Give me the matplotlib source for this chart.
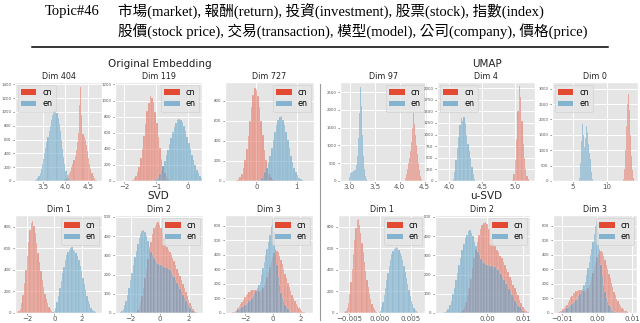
import matplotlib
matplotlib.use('Agg')
import matplotlib.pyplot as plt
import matplotlib.patches as mpatches
from matplotlib.lines import Line2D
import numpy as np

plt.style.use('ggplot')

# ---------------- header text ----------------
topic_label = "Topic#46"
topic_line1 = "市場(market), 報酬(return), 投資(investment), 股票(stock), 指數(index)"
topic_line2 = "股價(stock price), 交易(transaction), 模型(model), 公司(company), 價格(price)"

series_labels = ["cn", "en"]
group_titles = ["Original Embedding", "UMAP", "SVD", "u-SVD"]

# ---------------- histogram data (bin start, bin width, counts) ----------------
# Original Embedding
o404_title = "Dim 404"
o404_cn_bins = (3.95, 0.025)
o404_cn = [5, 15, 30, 50, 80, 110, 150, 200, 250, 300, 360, 450, 560, 700, 1100, 1360, 950, 680,
           640, 600, 520, 430, 340, 250, 170, 110, 70, 40, 20, 8]
o404_en_bins = (3.30, 0.025)
o404_en = [5, 12, 25, 45, 75, 115, 170, 240, 320, 400, 480, 560, 640, 720, 800, 880, 950, 1010,
           1040, 1020, 980, 910, 820, 720, 600, 470, 350, 240, 150, 90, 50, 25, 10, 5]

o119_title = "Dim 119"
o119_cn_bins = (-1.75, 0.05)
o119_cn = [17, 33, 60, 115, 175, 285, 400, 565, 710, 870, 975, 1050, 1035, 985, 860, 720, 550,
           410, 275, 185, 105, 65, 30, 15]
o119_en_bins = (-1.05, 0.05)
o119_en = [10, 25, 50, 85, 135, 190, 250, 320, 390, 460, 540, 610, 675, 725, 760, 770, 760, 730,
           680, 620, 550, 475, 395, 320, 255, 195, 140, 95, 60, 35, 15, 5]

o727_title = "Dim 727"
o727_cn_bins = (-0.50, 0.04)
o727_cn = [8, 18, 38, 72, 125, 210, 315, 450, 600, 740, 855, 925, 910, 850, 735, 600, 455, 310,
           205, 125, 72, 38, 18, 8]
o727_en_bins = (0.08, 0.04)
o727_en = [20, 34, 56, 87, 130, 185, 250, 330, 410, 490, 560, 610, 640, 645, 605, 560, 490, 410,
           330, 250, 185, 130, 87, 56, 34, 20, 10]

# UMAP
u97_title = "Dim 97"
u97_cn_bins = (4.11, 0.02)
u97_cn = [80, 200, 350, 500, 650, 850, 1100, 1500, 1950, 1600, 1300, 1000, 750, 500, 300, 150, 60]
u97_en_bins = (2.99, 0.02)
u97_en = [120, 220, 260, 240, 280, 300, 320, 450, 700, 1200, 1900, 2650, 2100, 1300, 700, 350,
          150, 50]

u4_title = "Dim 4"
u4_cn_bins = (4.95, 0.02)
u4_cn = [30, 150, 450, 900, 1500, 2040, 1800, 1300, 800, 500, 250, 100, 40]
u4_en_bins = (4.05, 0.02)
u4_en = [50, 200, 450, 700, 950, 1200, 1350, 1300, 1380, 1250, 1000, 800, 650, 500, 300, 150, 50]

u0_title = "Dim 0"
u0_cn_bins = (12.4, 0.15)
u0_cn = [80, 400, 1000, 1800, 2500, 2830, 2300, 1500, 800, 350, 100]
u0_en_bins = (5.9, 0.15)
u0_en = [100, 600, 1300, 1850, 1500, 1100, 1400, 1800, 1600, 1200, 900, 700, 300, 80]

# SVD
s1_title = "Dim 1"
s1_cn_bins = (-2.75, 0.1)
s1_cn = [5, 15, 40, 90, 170, 280, 400, 530, 660, 770, 840, 855, 810, 740, 650, 560, 470, 390, 310,
         240, 180, 130, 90, 60, 35, 18, 8]
s1_en_bins = (-0.15, 0.1)
s1_en = [5, 20, 50, 100, 160, 230, 300, 370, 430, 490, 540, 570, 590, 600, 610, 590, 580, 560, 530,
         490, 440, 390, 330, 270, 210, 160, 115, 80, 50, 30, 15, 7, 3]

s2_title = "Dim 2"
s2_cn_bins = (-1.65, 0.1)
s2_cn = [5, 15, 30, 55, 90, 130, 180, 230, 280, 330, 370, 410, 440, 455, 470, 475, 460, 440, 415,
         390, 365, 345, 330, 315, 300, 285, 270, 250, 230, 210, 190, 170, 150, 130, 110, 90, 70, 50,
         35, 22, 12, 5]
s2_en_bins = (-2.75, 0.1)
s2_en = [3, 10, 20, 40, 65, 95, 130, 170, 210, 250, 290, 325, 360, 390, 410, 425, 430, 420, 400,
         375, 345, 320, 300, 285, 270, 260, 255, 250, 248, 245, 240, 238, 235, 230, 222, 212, 200,
         185, 170, 155, 140, 125, 110, 95, 80, 65, 52, 40, 28, 18, 10, 5]

s3_title = "Dim 3"
s3_cn_bins = (-3.05, 0.1)
s3_cn = [3, 6, 10, 16, 24, 34, 46, 60, 76, 92, 108, 122, 134, 143, 150, 155, 158, 158, 155, 152,
         150, 152, 160, 172, 190, 215, 245, 280, 315, 350, 385, 410, 425, 430, 420, 395, 365, 335,
         300, 270, 240, 210, 180, 150, 125, 100, 80, 62, 47, 35, 25, 17, 10, 5]
s3_en_bins = (-2.85, 0.1)
s3_en = [3, 8, 12, 18, 25, 32, 40, 48, 57, 65, 72, 80, 90, 100, 115, 130, 150, 170, 190, 215, 260,
         310, 350, 400, 440, 490, 540, 600, 615, 560, 440, 330, 250, 190, 140, 105, 75, 55, 38, 25,
         16, 10, 5, 2]

# u-SVD
us1_title = "Dim 1"
us1_cn_bins = (-0.0058, 0.0002)
us1_cn = [5, 18, 45, 95, 180, 290, 410, 545, 680, 790, 860, 870, 820, 745, 655, 565, 475, 390, 310,
          240, 180, 130, 88, 58, 34, 18, 8]
us1_en_bins = (-0.0002, 0.0002)
us1_en = [5, 22, 52, 105, 165, 235, 305, 375, 435, 495, 545, 575, 595, 605, 615, 600, 585, 560,
          530, 490, 440, 385, 330, 270, 210, 160, 115, 80, 50, 30, 15, 7, 3]

us2_title = "Dim 2"
us2_cn_bins = (-0.0074, 0.00045)
us2_cn = [5, 14, 32, 58, 92, 128, 178, 232, 285, 328, 372, 408, 438, 458, 468, 472, 462, 438, 418,
          392, 362, 348, 328, 318, 298, 288, 268, 252, 228, 212, 188, 172, 148, 132, 108, 92, 68,
          52, 33, 22, 11, 5]
us2_en_bins = (-0.0118, 0.00043)
us2_en = [3, 11, 19, 42, 63, 97, 128, 172, 208, 252, 288, 328, 358, 392, 408, 428, 432, 418, 402,
          372, 348, 318, 302, 282, 272, 258, 256, 248, 250, 243, 242, 236, 237, 228, 224, 210, 202,
          183, 172, 153, 142, 123, 112, 93, 82, 63, 54, 38, 30, 17, 11, 5]

us3_title = "Dim 3"
us3_cn_bins = (-0.01144, 0.000375)
us3_cn = [3, 7, 11, 15, 25, 33, 47, 58, 78, 90, 110, 120, 136, 141, 152, 153, 160, 156, 157, 150,
          152, 150, 162, 170, 192, 213, 247, 278, 317, 348, 387, 408, 427, 428, 422, 393, 367, 333,
          302, 268, 242, 208, 182, 148, 127, 98, 82, 60, 48, 34, 26, 16, 11, 5]
us3_en_bins = (-0.01069, 0.000375)
us3_en = [3, 7, 13, 17, 26, 31, 41, 47, 58, 64, 73, 79, 91, 99, 117, 128, 152, 168, 192, 213, 262,
          308, 352, 398, 442, 488, 542, 598, 617, 558, 442, 328, 252, 188, 142, 103, 77, 53, 39, 24,
          17, 9, 5, 2]

# ---------------- panel layout (pixels: left, right, top, bottom) & axes settings ----------------
W, H = 640, 323
TOP_ROW = (82, 181)
BOT_ROW = (215, 313)
panels = [
    # title, cn, cn_bins, en, en_bins, (left, right), row, xlim, ylim, xticks, yticks, legend loc
    (o404_title, o404_cn, o404_cn_bins, o404_en, o404_en_bins, (15, 102), TOP_ROW,
     (2.88, 4.81), (0, 1433), [3.5, 4.0, 4.5], np.arange(0, 1401, 200), 'upper left'),
    (o119_title, o119_cn, o119_cn_bins, o119_en, o119_en_bins, (115, 202), TOP_ROW,
     (-2.28, 0.44), (0, 1230), [-2, -1, 0], np.arange(0, 1201, 200), 'upper right'),
    (o727_title, o727_cn, o727_cn_bins, o727_en, o727_en_bins, (225, 314), TOP_ROW,
     (-0.78, 1.43), (0, 987), [0, 1], np.arange(0, 801, 200), 'upper right'),
    (u97_title, u97_cn, u97_cn_bins, u97_en, u97_en_bins, (340, 427), TOP_ROW,
     (2.81, 4.55), (0, 2783), [3.0, 3.5, 4.0, 4.5], np.arange(0, 2501, 500), 'upper right'),
    (u4_title, u4_cn, u4_cn_bins, u4_en, u4_en_bins, (437, 535), TOP_ROW,
     (3.81, 5.30), (0, 2130), [4.0, 4.5, 5.0], np.arange(0, 2001, 250), 'upper left'),
    (u0_title, u0_cn, u0_cn_bins, u0_en, u0_en_bins, (552, 638), TOP_ROW,
     (1.9, 14.6), (0, 3217), [5, 10], np.arange(0, 3001, 500), 'upper left'),
    (s1_title, s1_cn, s1_cn_bins, s1_en, s1_en_bins, (15, 102), BOT_ROW,
     (-2.9, 3.5), (0, 911), [-2, 0, 2], np.arange(0, 801, 200), 'upper right'),
    (s2_title, s2_cn, s2_cn_bins, s2_en, s2_en_bins, (115, 203), BOT_ROW,
     (-3.07, 2.98), (0, 510), [-2, 0, 2], np.arange(0, 501, 100), 'upper right'),
    (s3_title, s3_cn, s3_cn_bins, s3_en, s3_en_bins, (225, 313), BOT_ROW,
     (-3.44, 2.91), (0, 675), [-2, 0, 2], np.arange(0, 601, 100), 'upper right'),
    (us1_title, us1_cn, us1_cn_bins, us1_en, us1_en_bins, (338, 425), BOT_ROW,
     (-0.0068, 0.0073), (0, 911), [-0.005, 0.0, 0.005], np.arange(0, 801, 200), 'upper right'),
    (us2_title, us2_cn, us2_cn_bins, us2_en, us2_en_bins, (435, 530), BOT_ROW,
     (-0.0144, 0.0119), (0, 510), [0.0, 0.01], np.arange(0, 501, 100), 'upper right'),
    (us3_title, us3_cn, us3_cn_bins, us3_en, us3_en_bins, (553, 637), BOT_ROW,
     (-0.0126, 0.0114), (0, 675), [-0.01, 0.0, 0.01], np.arange(0, 601, 100), 'upper right'),
]

RED = '#E24A33'
BLUE = '#348ABD'
TICK_COLOR = '#555555'

fig = plt.figure(figsize=(6.4, 3.23), dpi=100)
fig.patch.set_facecolor('white')


def draw_hist(ax, counts, bins, color):
    start, width = bins
    counts = np.asarray(counts, dtype=float)
    edges = start + width * np.arange(len(counts))
    ax.bar(edges, counts, width=width, align='edge', color=color, alpha=0.5,
           linewidth=0.25, edgecolor='#F2F2F2')


for (title, cn, cn_bins, en, en_bins, (l, r), (t, b), xlim, ylim, xticks, yticks, loc) in panels:
    ax = fig.add_axes([l / W, 1 - b / H, (r - l) / W, (b - t) / H])
    draw_hist(ax, cn, cn_bins, RED)
    draw_hist(ax, en, en_bins, BLUE)
    ax.set_xlim(*xlim)
    ax.set_ylim(*ylim)
    ax.set_xticks(xticks)
    ax.set_yticks(yticks)
    ax.tick_params(axis='x', labelsize=5, length=1.5, width=0.5, pad=0.8, colors=TICK_COLOR)
    ax.tick_params(axis='y', labelsize=2.8, length=1.5, width=0.5, pad=1, colors=TICK_COLOR)
    ax.grid(True, color='white', linewidth=0.7)
    ax.set_axisbelow(True)
    ax.set_title(title, fontsize=5.8, pad=2, color='#222222')
    handles = [mpatches.Patch(facecolor=RED, alpha=1.0, edgecolor='none'),
               mpatches.Patch(facecolor=BLUE, alpha=0.55, edgecolor='none')]
    ax.legend(handles, series_labels, loc=loc, fontsize=5.8, handlelength=1.9, handleheight=0.7,
              borderpad=0.4, labelspacing=0.3, handletextpad=0.8, borderaxespad=0.35,
              framealpha=0.8, facecolor='#E5E5E5', edgecolor='#CCCCCC')

# group titles
fig.text(160 / W, 1 - 64 / H, group_titles[0], ha='center', va='center', fontsize=7.5, color='#222222')
fig.text(487 / W, 1 - 64 / H, group_titles[1], ha='center', va='center', fontsize=7.5, color='#222222')
fig.text(158 / W, 1 - 196 / H, group_titles[2], ha='center', va='center', fontsize=7.5, color='#222222')
fig.text(486 / W, 1 - 196 / H, group_titles[3], ha='center', va='center', fontsize=7.5, color='#222222')

# vertical divider
fig.add_artist(Line2D([320 / W, 320 / W], [1 - 84 / H, 1 - 320 / H], color='#999999', linewidth=0.8))

# header
serif_fonts = ['Liberation Serif', 'Noto Sans CJK TC']
fig.text(45 / W, 1 - 12 / H, topic_label, ha='left', va='center', fontsize=10.5, family=serif_fonts)
fig.text(118 / W, 1 - 12 / H, topic_line1, ha='left', va='center', fontsize=10.5, family=serif_fonts)
fig.text(118 / W, 1 - 31 / H, topic_line2, ha='left', va='center', fontsize=10.5, family=serif_fonts)
fig.add_artist(Line2D([32 / W, 608 / W], [1 - 47 / H, 1 - 47 / H], color='black', linewidth=1.1))

fig.savefig('out.png', dpi=100, facecolor='white')
